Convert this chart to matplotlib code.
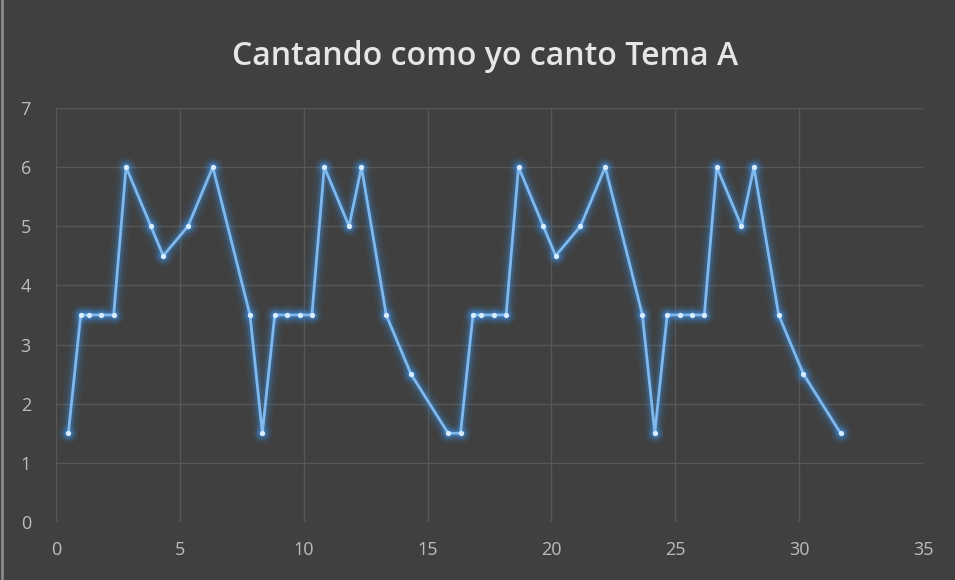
import matplotlib
matplotlib.use("Agg")
import matplotlib.pyplot as plt

# Melody contour: time position (beats) and pitch step
tiempo = [0.5, 1.0, 1.33, 1.83, 2.33, 2.83, 3.83, 4.33, 5.33, 6.33, 7.83, 8.33,
          8.83, 9.33, 9.83, 10.33, 10.83, 11.83, 12.33, 13.33, 14.33, 15.83,
          16.33, 16.83, 17.17, 17.67, 18.17, 18.67, 19.67, 20.17, 21.17, 22.17, 23.67, 24.17,
          24.67, 25.17, 25.67, 26.17, 26.67, 27.67, 28.17, 29.17, 30.17, 31.67]
altura = [1.5, 3.5, 3.5, 3.5, 3.5, 6, 5, 4.5, 5, 6, 3.5, 1.5,
          3.5, 3.5, 3.5, 3.5, 6, 5, 6, 3.5, 2.5, 1.5,
          1.5, 3.5, 3.5, 3.5, 3.5, 6, 5, 4.5, 5, 6, 3.5, 1.5,
          3.5, 3.5, 3.5, 3.5, 6, 5, 6, 3.5, 2.5, 1.5]

titulo = "Cantando como yo canto Tema A"
x_ticks = [0, 5, 10, 15, 20, 25, 30, 35]
y_ticks = [0, 1, 2, 3, 4, 5, 6, 7]

bg = "#404040"
grid_c = "#575757"
text_c = "#bdbdbd"

fig = plt.figure(figsize=(9.55, 5.8), dpi=100, facecolor=bg)
ax = fig.add_axes([0.0586, 0.100, 0.908, 0.714], facecolor=bg)

# glow layers beneath the line
for lw, alpha in [(14, 0.05), (10, 0.08), (7, 0.12), (5, 0.2)]:
    ax.plot(tiempo, altura, color="#3d8fe0", lw=lw, alpha=alpha,
            solid_joinstyle="round", solid_capstyle="round", zorder=3)
for ms, alpha in [(14, 0.08), (10, 0.14), (7, 0.25)]:
    ax.plot(tiempo, altura, ls="none", marker="o", ms=ms, color="#3d8fe0",
            alpha=alpha, markeredgewidth=0, zorder=3)

ax.plot(tiempo, altura, color="#80b9ee", lw=2.0, solid_joinstyle="round", zorder=4)
ax.plot(tiempo, altura, ls="none", marker="o", ms=3.8, color="#d8ecff",
        markeredgewidth=0, zorder=5)

ax.set_xlim(0, 35)
ax.set_ylim(0, 7)
ax.set_xticks(x_ticks)
ax.set_yticks(y_ticks)
ax.grid(True, color=grid_c, lw=1.0)
ax.set_axisbelow(True)
for s in ax.spines.values():
    s.set_visible(False)
ax.tick_params(length=0, colors=text_c, labelsize=13)
ax.tick_params(axis="x", pad=14)
ax.tick_params(axis="y", pad=18)
for lab in ax.get_xticklabels() + ax.get_yticklabels():
    lab.set_fontfamily("Open Sans")

fig.text(0.508, 0.903, titulo, ha="center", va="center", color="#e6e6e6",
         fontsize=23, fontweight="semibold", fontfamily="Open Sans")

# thin light edge along the left border
fig.add_artist(plt.Line2D([0.002, 0.002], [0, 1], color="#8a8a8a", lw=2,
                          transform=fig.transFigure))

fig.savefig("out.png", dpi=100, facecolor=bg)
